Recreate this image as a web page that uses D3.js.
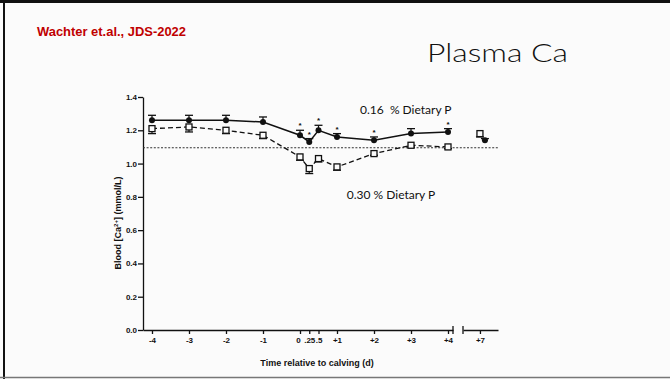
<!DOCTYPE html>
<html><head><meta charset="utf-8">
<script src="https://cdn.jsdelivr.net/npm/d3@7"></script>
<style>
html,body{margin:0;padding:0;background:#fbfbfb;}
svg{display:block;}
</style></head>
<body>
<svg id="c" width="670" height="379"></svg>
<script>
// ---- data ----
const days = [-4, -3, -2, -1, 0, 0.25, 0.5, 1, 2, 3, 4];
const dayLabels = ["-4", "-3", "-2", "-1", "0", ".25", ".5", "+1", "+2", "+3", "+4"];
const lowP = [1.26, 1.26, 1.26, 1.25, 1.17, 1.13, 1.20, 1.16, 1.14, 1.18, 1.19];   // 0.16 % Dietary P
const lowSE = [0.03, 0.03, 0.03, 0.03, 0.03, 0.02, 0.03, 0.02, 0.02, 0.03, 0.02];
const highP = [1.21, 1.22, 1.20, 1.17, 1.04, 0.97, 1.03, 0.98, 1.06, 1.11, 1.10]; // 0.30 % Dietary P
const highSE = [0.03, 0.03, 0.02, 0.02, 0.02, 0.03, 0.02, 0.02, 0.01, 0.01, 0.01];
const signif = [false, false, false, false, true, true, true, true, true, false, true];
const day7 = [7];
const day7Labels = ["+7"];
const lowP7 = [1.14], lowSE7 = [0.01];
const highP7 = [1.18], highSE7 = [0.02];
const thresholdValue = [1.095];
const yTicks = [0, 0.2, 0.4, 0.6, 0.8, 1.0, 1.2, 1.4];

const svg = d3.select("#c");

// slide frame
svg.append("rect").attr("x",0).attr("y",0).attr("width",670).attr("height",379).attr("fill","#fbfbfb");
svg.append("line").attr("x1",0).attr("x2",670).attr("y1",1.5).attr("y2",1.5).attr("stroke","#111").attr("stroke-width",3);
svg.append("line").attr("x1",4).attr("x2",4).attr("y1",0).attr("y2",379).attr("stroke","#111").attr("stroke-width",2);
svg.append("line").attr("x1",0).attr("x2",670).attr("y1",377.5).attr("y2",377.5).attr("stroke","#777").attr("stroke-width",1.5);

svg.append("text").attr("x",37).attr("y",36).text("Wachter et.al., JDS-2022")
  .attr("fill","#c00000").attr("textLength",149).attr("lengthAdjust","spacingAndGlyphs")
  .style("font","bold 13px 'Liberation Sans', Arial, sans-serif");
svg.append("text").attr("x",427).attr("y",62).text("Plasma Ca")
  .attr("fill","#111").attr("textLength",141).attr("lengthAdjust","spacingAndGlyphs")
  .style("font","300 25px 'Lato', 'DejaVu Sans', sans-serif");

// ---- scales ----
const x = d3.scaleLinear().domain([-4.243, 4.135]).range([143, 453]);
const x2 = d3.scaleLinear().domain([6.54, 7.49]).range([463, 498]);
const y = d3.scaleLinear().domain([0, 1.4]).range([330, 97]);

const tickFont = "bold 8px 'Liberation Sans', Arial, sans-serif";

// y axis
const gy = svg.append("g").attr("transform","translate(143,0)")
  .call(d3.axisLeft(y).tickValues(yTicks).tickFormat(d3.format(".1f")).tickSize(5).tickSizeOuter(0));
// x axis (segment 1)
const gx = svg.append("g").attr("transform","translate(0,330)")
  .call(d3.axisBottom(x).tickValues(days).tickFormat((d,i)=>dayLabels[i]).tickSize(4).tickSizeOuter(0));
// x axis (segment 2)
const gx2 = svg.append("g").attr("transform","translate(0,330)")
  .call(d3.axisBottom(x2).tickValues(day7).tickFormat((d,i)=>day7Labels[i]).tickSize(4).tickSizeOuter(0));
[gy,gx,gx2].forEach(g=>{
  g.selectAll("path,line").attr("stroke","#111").attr("stroke-width",1.3);
  g.selectAll("text").style("font",tickFont).attr("fill","#111");
});
gy.selectAll("text").attr("x",-6);
gx.selectAll("text").attr("y",7);
gx2.selectAll("text").attr("y",7);
gx.selectAll(".tick text").filter((d)=>d===0).attr("dx",-2);
// break marks
[[x.range()[1]],[x2.range()[0]]].forEach(([bx])=>{
  svg.append("line").attr("x1",bx).attr("x2",bx).attr("y1",326).attr("y2",334).attr("stroke","#111").attr("stroke-width",1.3);
});

// threshold dotted line
svg.append("line").attr("x1",143).attr("x2",x2.range()[1]).attr("y1",y(thresholdValue[0])).attr("y2",y(thresholdValue[0]))
  .attr("stroke","#333").attr("stroke-width",1.2).attr("stroke-dasharray","2,1.6");

// lines
const lineGen = d3.line().x(d=>x(d[0])).y(d=>y(d[1]));
svg.append("path").datum(days.map((d,i)=>[d,highP[i]])).attr("d",lineGen)
  .attr("fill","none").attr("stroke","#111").attr("stroke-width",1.3).attr("stroke-dasharray","5,3");
svg.append("path").datum(days.map((d,i)=>[d,lowP[i]])).attr("d",lineGen)
  .attr("fill","none").attr("stroke","#111").attr("stroke-width",1.5);

// error bars
function errBar(px, v, se, dir){
  const y0 = y(v), y1 = y(v + dir*se);
  svg.append("line").attr("x1",px).attr("x2",px).attr("y1",y0).attr("y2",y1).attr("stroke","#111").attr("stroke-width",1.2);
  svg.append("line").attr("x1",px-4).attr("x2",px+4).attr("y1",y1).attr("y2",y1).attr("stroke","#111").attr("stroke-width",1.3);
}
days.forEach((d,i)=>{ errBar(x(d), lowP[i], lowSE[i], 1); errBar(x(d), highP[i], highSE[i], -1); });
day7.forEach((d,i)=>{ errBar(x2(d)+5, lowP7[i], lowSE7[i], 1); errBar(x2(d), highP7[i], highSE7[i], -1); });

// markers: squares (0.30 %) and dots (0.16 %)
function square(px, v){
  svg.append("rect").attr("x",px-3).attr("y",y(v)-3).attr("width",6).attr("height",6)
    .attr("fill","#fbfbfb").attr("stroke","#111").attr("stroke-width",1.3);
}
function dot(px, v){
  svg.append("circle").attr("cx",px).attr("cy",y(v)).attr("r",3).attr("fill","#111");
}
days.forEach((d,i)=>square(x(d), highP[i]));
day7.forEach((d,i)=>square(x2(d), highP7[i]));
days.forEach((d,i)=>dot(x(d), lowP[i]));
day7.forEach((d,i)=>dot(x2(d)+5, lowP7[i]));

// significance asterisks
days.forEach((d,i)=>{
  if(!signif[i]) return;
  svg.append("text").attr("x",x(d)).attr("y",y(lowP[i]+lowSE[i])-2).attr("text-anchor","middle")
    .text("*").style("font","bold 8px 'Liberation Sans', Arial, sans-serif").attr("fill","#111");
});

// series annotations
const annFont = "400 12px 'Lato', 'DejaVu Sans', sans-serif";
svg.append("text").attr("x",x(2.86)).attr("y",y(1.30)).attr("text-anchor","middle")
  .text("0.16  % Dietary P").attr("xml:space","preserve").style("white-space","pre").style("font",annFont).attr("fill","#111");
svg.append("text").attr("x",x(2.46)).attr("y",y(0.787)).attr("text-anchor","middle")
  .text("0.30 % Dietary P").style("font",annFont).attr("fill","#111");

// axis titles
const yl = svg.append("text").attr("transform","translate(121,223) rotate(-90)").attr("text-anchor","middle")
  .style("font","bold 9px 'Liberation Sans', Arial, sans-serif").attr("fill","#111");
yl.append("tspan").text("Blood [Ca");
yl.append("tspan").text("2+").attr("dy",-3).style("font-size","6px");
yl.append("tspan").text("] (mmol/L)").attr("dy",3);
svg.append("text").attr("x",317).attr("y",366).attr("text-anchor","middle")
  .text("Time relative to calving (d)").style("font","bold 9px 'Liberation Sans', Arial, sans-serif").attr("fill","#111");
</script>
</body></html>
